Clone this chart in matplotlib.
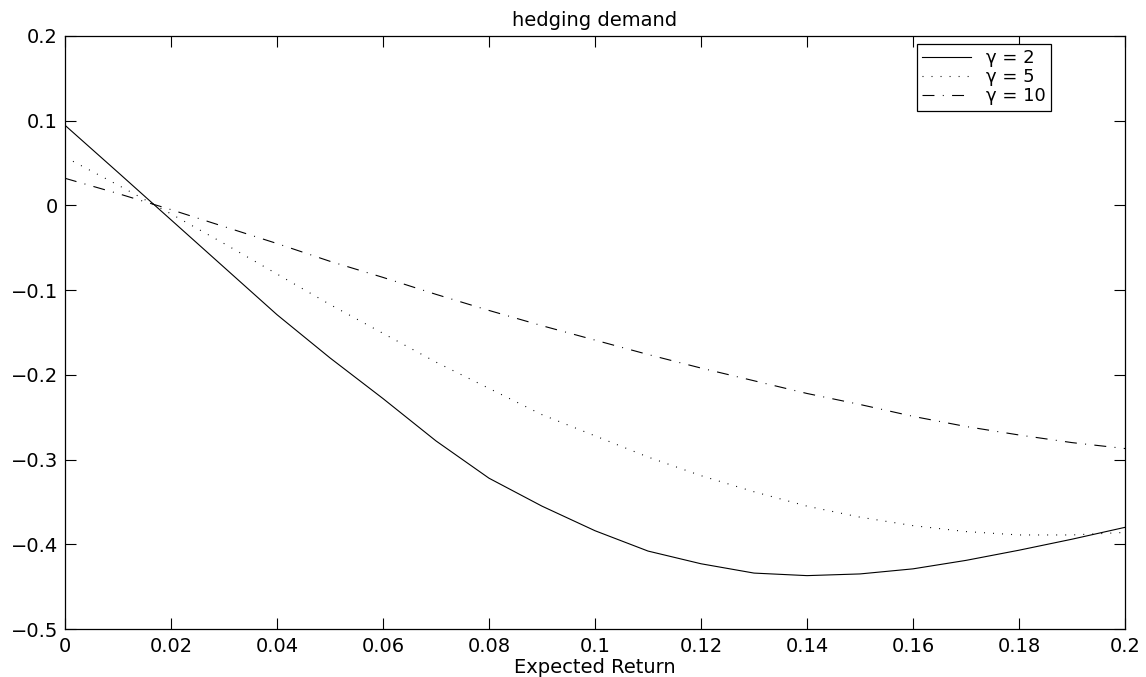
import matplotlib
matplotlib.use("Agg")
import matplotlib.pyplot as plt
from matplotlib.ticker import FuncFormatter

plt.rcParams['font.family'] = ['DejaVu Sans']
plt.rcParams['lines.scale_dashes'] = False

# expected return grid
ret = [0.00, 0.01, 0.02, 0.03, 0.04, 0.05, 0.06, 0.07, 0.08, 0.09, 0.10,
       0.11, 0.12, 0.13, 0.14, 0.15, 0.16, 0.17, 0.18, 0.19, 0.20]

# hedging demand for each risk aversion
hd_g2 = [0.0946, 0.039, -0.017, -0.073, -0.129, -0.180, -0.228, -0.278, -0.322,
         -0.355, -0.384, -0.408, -0.423, -0.434, -0.437, -0.435, -0.429, -0.419,
         -0.407, -0.394, -0.380]
hd_g5 = [0.057, 0.024, -0.010, -0.045, -0.081, -0.117, -0.151, -0.185, -0.216,
         -0.247, -0.272, -0.297, -0.319, -0.338, -0.355, -0.368, -0.378, -0.385,
         -0.389, -0.389, -0.386]
hd_g10 = [0.032, 0.014, -0.005, -0.025, -0.045, -0.066, -0.085, -0.105, -0.124,
          -0.142, -0.159, -0.176, -0.192, -0.207, -0.222, -0.235, -0.249, -0.261,
          -0.271, -0.280, -0.287]

labels = ['γ = 2', 'γ = 5', 'γ = 10']
xticks = [0, 0.02, 0.04, 0.06, 0.08, 0.1, 0.12, 0.14, 0.16, 0.18, 0.2]
yticks = [-0.5, -0.4, -0.3, -0.2, -0.1, 0, 0.1, 0.2]

fig = plt.figure(figsize=(11.46, 6.77), dpi=100)
ax = fig.add_axes([0.0567, 0.0709, 0.925, 0.876])

ax.plot(ret, hd_g2, color='black', lw=0.8, linestyle='-', label=labels[0])
ax.plot(ret, hd_g5, color='black', lw=0.8, linestyle=(0, (0.7, 5.8)), label=labels[1])
ax.plot(ret, hd_g10, color='black', lw=0.8, linestyle=(0, (8.6, 6.0, 0.7, 6.0)), label=labels[2])

ax.set_xlim(0, 0.2)
ax.set_ylim(-0.5, 0.2)
ax.set_xticks(xticks)
ax.set_yticks(yticks)
fmt = FuncFormatter(lambda v, p: ('%g' % round(v, 4)).replace('-', '\u2212'))
ax.xaxis.set_major_formatter(fmt)
ax.yaxis.set_major_formatter(fmt)
ax.tick_params(direction='in', length=8, width=0.8, top=True, right=True,
               labelsize=14)
ax.tick_params(axis='y', pad=5)
ax.tick_params(axis='x', pad=6)
for s in ax.spines.values():
    s.set_linewidth(0.9)

ax.set_title('hedging demand', fontsize=14, pad=7)
ax.set_xlabel('Expected Return', fontsize=14, labelpad=1)

leg = ax.legend(loc='upper right', bbox_to_anchor=(0.930, 0.9865), borderaxespad=0,
                fontsize=13, fancybox=False, framealpha=1, edgecolor='black',
                handlelength=2.7, handletextpad=0.8, borderpad=0.3, labelspacing=0.05)
leg.get_frame().set_linewidth(0.9)

fig.savefig('out.png', dpi=100)
